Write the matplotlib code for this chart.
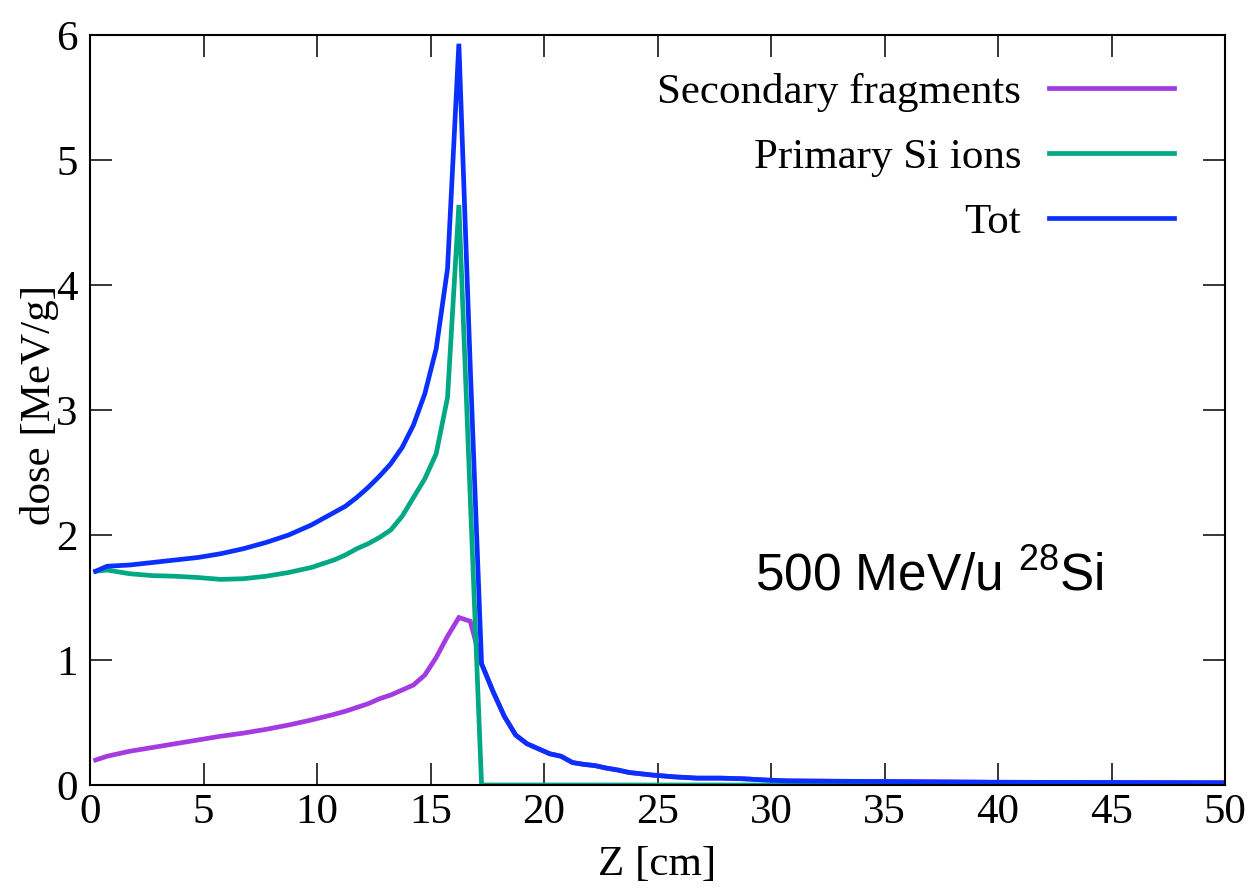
import matplotlib
matplotlib.use('Agg')
import matplotlib.pyplot as plt

# depth along the beam [cm]
z = [0.25, 0.75, 1.75, 2.75, 3.75, 4.75, 5.75, 6.75, 7.75, 8.75, 9.75, 10.75,
     11.25, 11.75, 12.25, 12.75, 13.25, 13.75, 14.25, 14.75, 15.25, 15.75,
     16.25, 16.75, 17.25, 17.75, 18.25, 18.75, 19.25, 19.75, 20.25, 20.75,
     21.25, 21.75, 22.25, 22.75, 23.25, 23.75, 24.75, 25.75, 26.75, 27.75,
     28.75, 29.75, 30.75, 32.75, 35.75, 39.75, 44.75, 50.0]

# dose [MeV/g]
secondary = [0.20, 0.23, 0.27, 0.30, 0.33, 0.36, 0.39, 0.415, 0.445, 0.48, 0.52, 0.565,
             0.59, 0.62, 0.65, 0.69, 0.72, 0.76, 0.80, 0.88, 1.02, 1.19,
             1.34, 1.31, 0.97, 0.75, 0.55, 0.40, 0.33, 0.29, 0.25, 0.23,
             0.18, 0.165, 0.155, 0.135, 0.12, 0.10, 0.08, 0.065, 0.055, 0.055,
             0.05, 0.04, 0.033, 0.03, 0.027, 0.022, 0.02, 0.018]
primary = [1.71, 1.72, 1.69, 1.675, 1.67, 1.66, 1.645, 1.65, 1.67, 1.70, 1.74, 1.80,
           1.84, 1.89, 1.93, 1.98, 2.04, 2.15, 2.30, 2.45, 2.65, 3.10,
           4.64, 2.30, 0.0, 0.0, 0.0, 0.0, 0.0, 0.0, 0.0, 0.0,
           0.0, 0.0, 0.0, 0.0, 0.0, 0.0, 0.0, 0.0, 0.0, 0.0,
           0.0, 0.0, 0.0, 0.0, 0.0, 0.0, 0.0, 0.0]
tot = [1.71, 1.75, 1.76, 1.78, 1.80, 1.82, 1.85, 1.89, 1.94, 2.00, 2.08, 2.18,
       2.23, 2.30, 2.38, 2.47, 2.57, 2.70, 2.88, 3.13, 3.49, 4.13,
       5.93, 3.35, 0.97, 0.75, 0.55, 0.40, 0.33, 0.29, 0.25, 0.23,
       0.18, 0.165, 0.155, 0.135, 0.12, 0.10, 0.08, 0.065, 0.055, 0.055,
       0.05, 0.04, 0.033, 0.03, 0.027, 0.022, 0.02, 0.018]

labels = ['Secondary fragments', 'Primary Si ions', 'Tot']
colors = ['#a33be0', '#00a884', '#0a30ff']

plt.rcParams['font.family'] = 'Liberation Serif'
plt.rcParams['mathtext.fontset'] = 'custom'
plt.rcParams['mathtext.rm'] = 'Liberation Sans'

fs = 31

fig = plt.figure(figsize=(12.52, 8.9), dpi=100)
ax = fig.add_axes([90/1252, 105/890, 1135/1252, 750/890])

for y, lab, c in zip([secondary, primary, tot], labels, colors):
    ax.plot(z, y, color=c, lw=3.4, label=lab, solid_joinstyle='miter')

ax.set_xlim(0, 50)
ax.set_ylim(0, 6)
ax.set_xticks(range(0, 51, 5))
ax.set_yticks(range(0, 7))
ax.tick_params(direction='in', length=16, width=1.1, labelsize=fs,
               top=True, right=True)
ax.tick_params(axis='x', pad=6)
ax.tick_params(axis='y', pad=9)
for s in ax.spines.values():
    s.set_linewidth(1.5)

ax.set_xlabel('Z [cm]', fontsize=fs, labelpad=10)
fig.text(40/1252, 1 - 405/890, 'dose [MeV/g]', rotation=90, fontsize=fs,
         ha='center', va='center')

ax.legend(loc='upper right', bbox_to_anchor=(0.955, 0.950), frameon=False,
          markerfirst=False, alignment='right', fontsize=fs,
          handlelength=2.9, handletextpad=0.65, labelspacing=0.6,
          borderpad=0, borderaxespad=0)

ax.text(0.586, 0.26, r'500 MeV/u $\mathregular{^{28}}$Si', transform=ax.transAxes,
        family='Liberation Sans', fontsize=37, va='baseline', ha='left')

fig.savefig('out.png', dpi=100)
